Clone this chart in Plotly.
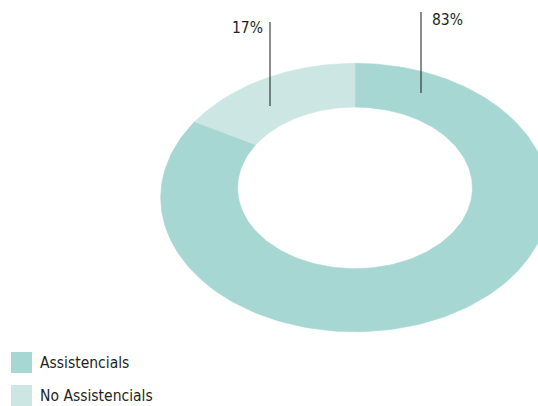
import numpy as np
import plotly.graph_objects as go

# ---- data ----
categories = ["Assistencials", "No Assistencials"]
values = [83, 17]
colors = ["#a6d7d2", "#cbe6e3"]

# ---- style / geometry (pixel space of the 538x406 canvas) ----
W, H = 538, 406
CX, CY0 = 355.0, 182.3      # projection centre
F, K, C = 193.0, 132.5, 0.1136  # horizontal scale, vertical scale, perspective factor
R_IN = 0.607                # hole size relative to outer radius
FONT = "DejaVu Sans Condensed, Liberation Sans Narrow, sans-serif"
FSIZE = 15.5
TXT = "#231f20"


def project(u, v):
    d = 1.0 + C * v
    return CX + F * u / d, CY0 - K * v / d


fig = go.Figure()

total = float(sum(values))
start = 0.0
for name, val, col in zip(categories, values, colors):
    a0 = start
    a1 = start + 2 * np.pi * val / total
    start = a1
    th = np.linspace(a0, a1, 200)
    uo, vo = np.sin(th), np.cos(th)
    ui, vi = R_IN * np.sin(th[::-1]), R_IN * np.cos(th[::-1])
    xo, yo = project(uo, vo)
    xi, yi = project(ui, vi)
    xs = np.concatenate([xo, xi, xo[:1]])
    ys = np.concatenate([yo, yi, yo[:1]])
    fig.add_trace(go.Scatter(
        x=xs, y=ys, mode="lines", fill="toself", fillcolor=col,
        line=dict(color=col, width=0.6), name=name, showlegend=False,
        hoverinfo="name",
    ))

# ---- percentage labels with leader lines ----
label_specs = [
    # (value index, line x, line y0, line y1, text x, text y, anchor)
    (0, 421, 12, 93, 430, 19.5, "left"),
    (1, 270, 22, 106, 265, 27.5, "right"),
]
shapes = []
annotations = []
for idx, lx, ly0, ly1, tx, ty, anc in label_specs:
    shapes.append(dict(type="line", xref="x", yref="y", x0=lx, x1=lx, y0=ly0, y1=ly1,
                       line=dict(color="#1a1a1a", width=1)))
    annotations.append(dict(x=tx, y=ty, xref="x", yref="y", text=f"{values[idx]}%",
                            showarrow=False, xanchor=anc, yanchor="middle",
                            font=dict(family=FONT, size=FSIZE, color=TXT)))

# ---- legend (manual, square swatches) ----
for i, (name, col) in enumerate(zip(categories, colors)):
    yc = 362.5 + i * 33
    shapes.append(dict(type="rect", xref="x", yref="y", x0=11, x1=32, y0=yc - 10.5, y1=yc + 10.5,
                       fillcolor=col, line=dict(width=0)))
    annotations.append(dict(x=38, y=yc, xref="x", yref="y", text=name, showarrow=False,
                            xanchor="left", yanchor="middle",
                            font=dict(family=FONT, size=FSIZE, color=TXT)))

fig.update_layout(
    width=W, height=H, autosize=False,
    margin=dict(l=0, r=0, t=0, b=0, pad=0),
    paper_bgcolor="white", plot_bgcolor="white",
    xaxis=dict(range=[0, W], visible=False, fixedrange=True),
    yaxis=dict(range=[H, 0], visible=False, fixedrange=True),
    shapes=shapes, annotations=annotations,
    showlegend=False,
)

fig.write_html("out.html")
